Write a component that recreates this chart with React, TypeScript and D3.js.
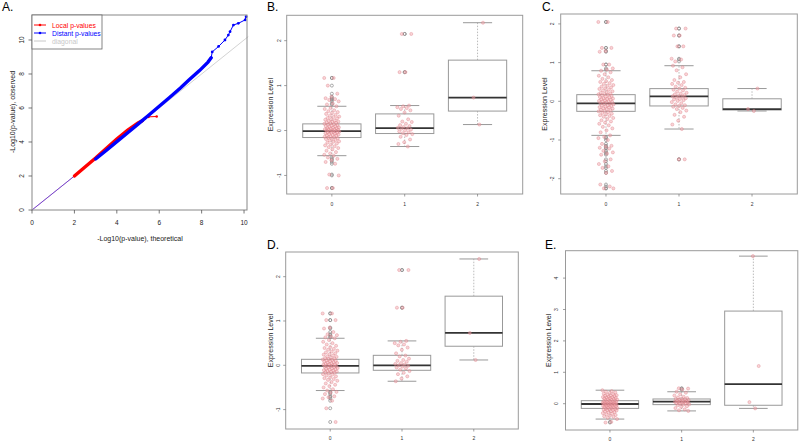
import React from "react";
import * as d3 from "d3";

// ---------- Panel A data (QQ plot) ----------
const qqTicks = [0, 2, 4, 6, 8, 10];
const localDense: [number, number][] = [
  [2.0, 2.0], [2.5, 2.53], [3.0, 3.06], [3.5, 3.62], [4.0, 4.18], [4.5, 4.68], [5.0, 5.12], [5.2, 5.25],
];
const localSparse: [number, number][] = [[5.2, 5.25], [5.5, 5.48], [5.88, 5.5]];
const distantDense: [number, number][] = [
  [3.0, 3.0], [3.5, 3.5], [4.0, 4.02], [4.5, 4.53], [5.0, 5.05], [5.5, 5.57], [6.0, 6.1], [6.5, 6.63],
  [7.0, 7.18], [7.4, 7.65], [7.9, 8.2], [8.3, 8.7], [8.45, 8.95],
];
const distantSparse: [number, number][] = [
  [8.45, 8.95], [8.5, 9.3], [8.8, 9.62], [9.1, 10.0], [9.26, 10.29], [9.34, 10.49], [9.5, 10.88],
  [9.73, 10.98], [10.05, 11.18], [10.1, 11.37],
];
const legendLabels = ["Local p-values", "Distant p-values", "diagonal"];

// ---------- Box plot data ----------
const groups = ["0", "1", "2"];

// Panel B
const bQ1 = [-0.156, -0.067, 0.433];
const bMed = [-0.015, 0.052, 0.733];
const bQ3 = [0.148, 0.37, 1.567];
const bLo = [-0.56, -0.356, 0.133];
const bHi = [0.54, 0.556, 2.4];
const bPts0 = [1.17, 1.17, 1.0, 0.82, 0.75, 0.72, 0.7, 0.68, 0.65, 0.6, 0.58,
  0.54, 0.5, 0.48, 0.45, 0.43, 0.41, 0.39, 0.37, 0.35, 0.33, 0.31, 0.3, 0.28, 0.27, 0.25, 0.24, 0.22, 0.21, 0.2,
  0.19, 0.18, 0.17, 0.16, 0.15, 0.14, 0.13, 0.12, 0.11, 0.1, 0.09, 0.08, 0.07, 0.06, 0.05, 0.05, 0.04, 0.03,
  0.02, 0.02, 0.01, 0.0, 0.0, -0.01, -0.02, -0.02, -0.03, -0.04, -0.05, -0.05, -0.06, -0.07, -0.08, -0.09,
  -0.1, -0.11, -0.12, -0.13, -0.14, -0.15, -0.16, -0.17, -0.18, -0.19, -0.21, -0.22, -0.24, -0.25, -0.27,
  -0.29, -0.31, -0.33, -0.35, -0.37, -0.39, -0.42, -0.45, -0.48, -0.51, -0.54, -0.56,
  -0.6, -0.63, -0.66, -0.7, -0.74, -0.98, -1.0, -1.28, -1.28];
const bPts1 = [2.15, 2.15, 1.3, 1.3, 0.556, 0.54, 0.52, 0.5, 0.48, 0.45, 0.4, 0.33, 0.25, 0.2, 0.19, 0.15,
  0.12, 0.1, 0.08, 0.06, 0.05, 0.04, 0.02, 0.0, -0.02, -0.04, -0.06, -0.08, -0.1, -0.14, -0.2, -0.26, -0.3, -0.356];
const bPts2 = [0.133, 0.733, 2.4];
const bTicks = [-1, 0, 1, 2];

// Panel C
const cQ1 = [-0.259, -0.12, -0.225];
const cMed = [-0.052, 0.129, -0.2];
const cQ3 = [0.172, 0.328, 0.065];
const cLo = [-0.88, -0.716, -0.25];
const cHi = [0.79, 0.92, 0.33];
const cPts0 = [2.05, 2.05, 1.38, 1.38, 1.3, 1.28, 0.95, 0.95, 0.85, 0.82,
  0.79, 0.75, 0.7, 0.66, 0.62, 0.58, 0.55, 0.52, 0.5, 0.47, 0.45, 0.42, 0.4, 0.38, 0.36, 0.34, 0.32, 0.3,
  0.28, 0.26, 0.24, 0.22, 0.2, 0.19, 0.18, 0.17, 0.15, 0.14, 0.12, 0.11, 0.1, 0.08, 0.07, 0.06, 0.05, 0.04,
  0.02, 0.01, 0.0, -0.01, -0.02, -0.03, -0.05, -0.06, -0.07, -0.08, -0.1, -0.11, -0.12, -0.14, -0.15, -0.16,
  -0.18, -0.19, -0.2, -0.22, -0.23, -0.25, -0.26, -0.28, -0.3, -0.32, -0.34, -0.36, -0.38, -0.4, -0.43,
  -0.46, -0.49, -0.52, -0.55, -0.58, -0.62, -0.66, -0.7, -0.75, -0.8, -0.88,
  -0.92, -0.95, -1.0, -1.1, -1.15, -1.17, -1.2, -1.22, -1.28, -1.32, -1.35, -1.38, -1.5, -1.55, -1.62,
  -1.68, -1.72, -1.8, -1.85, -2.15, -2.2, -2.25, -2.25];
const cPts1 = [1.88, 1.88, 1.7, 1.7, 1.42, 1.42, 1.1, 1.08, 1.03, -1.5, -1.5,
  0.92, 0.88, 0.8, 0.7, 0.62, 0.55, 0.5, 0.48, 0.45, 0.42, 0.38, 0.35, 0.33, 0.3, 0.28, 0.25, 0.22, 0.2,
  0.18, 0.16, 0.14, 0.13, 0.12, 0.1, 0.08, 0.06, 0.05, 0.03, 0.01, -0.02, -0.05, -0.08, -0.1, -0.12, -0.14,
  -0.17, -0.2, -0.24, -0.28, -0.35, -0.4, -0.5, -0.6, -0.716];
const cPts2 = [-0.25, -0.2, 0.33];
const cTicks = [-2, -1, 0, 1, 2];

// Panel D
const dQ1 = [-0.173, -0.113, 0.43];
const dMed = [-0.015, 0.0, 0.73];
const dQ3 = [0.135, 0.225, 1.56];
const dLo = [-0.57, -0.36, 0.12];
const dHi = [0.61, 0.55, 2.4];
const dPts0 = [1.17, 1.17, 1.02, 1.02, 0.85, 0.83, 0.75, 0.7, 0.68, 0.65, 0.63,
  0.61, 0.57, 0.53, 0.5, 0.47, 0.44, 0.41, 0.39, 0.37, 0.35, 0.33, 0.31, 0.29, 0.27, 0.25, 0.24, 0.22, 0.2,
  0.19, 0.17, 0.16, 0.15, 0.14, 0.13, 0.12, 0.11, 0.1, 0.09, 0.08, 0.07, 0.06, 0.05, 0.04, 0.03, 0.02, 0.02,
  0.01, 0.0, -0.01, -0.02, -0.02, -0.03, -0.04, -0.05, -0.06, -0.07, -0.08, -0.09, -0.1, -0.11, -0.12, -0.13,
  -0.14, -0.15, -0.16, -0.17, -0.18, -0.2, -0.21, -0.23, -0.25, -0.27, -0.29, -0.31, -0.33, -0.35, -0.38,
  -0.41, -0.44, -0.47, -0.5, -0.54, -0.57,
  -0.6, -0.62, -0.65, -0.7, -0.72, -0.75, -0.8, -0.97, -1.28];
const dPts1 = [2.15, 2.15, 1.3, 1.3, 0.55, 0.53, 0.5, 0.47, 0.45, 0.4, 0.35, 0.27, 0.22, 0.2, 0.15, 0.12,
  0.1, 0.08, 0.05, 0.03, 0.02, 0.0, -0.01, -0.03, -0.05, -0.07, -0.1, -0.13, -0.17, -0.2, -0.25, -0.3, -0.36];
const dPts2 = [0.12, 0.73, 2.4];
const dTicks = [-1, 0, 1, 2];

// Panel E
const eQ1 = [-0.15, -0.03, -0.05];
const eMed = [-0.01, 0.064, 0.625];
const eQ3 = [0.096, 0.15, 2.95];
const eLo = [-0.49, -0.23, -0.15];
const eHi = [0.43, 0.38, 4.7];
const ePts0 = [0.43, 0.4, 0.38, 0.36, 0.34, 0.32, 0.3, 0.28, 0.27, 0.26, 0.25, 0.24, 0.22, 0.21, 0.2, 0.19,
  0.18, 0.17, 0.16, 0.15, 0.14, 0.13, 0.12, 0.11, 0.1, 0.09, 0.08, 0.07, 0.06, 0.05, 0.05, 0.04, 0.03, 0.02,
  0.02, 0.01, 0.0, 0.0, -0.01, -0.01, -0.02, -0.03, -0.03, -0.04, -0.05, -0.05, -0.06, -0.07, -0.08, -0.08,
  -0.09, -0.1, -0.11, -0.12, -0.13, -0.14, -0.15, -0.16, -0.17, -0.18, -0.19, -0.2, -0.21, -0.22, -0.24,
  -0.25, -0.27, -0.28, -0.3, -0.32, -0.34, -0.36, -0.38, -0.4, -0.42, -0.45, -0.49, -0.58, -0.6];
const ePts1 = [0.49, 0.48, 0.45, 0.38, 0.35, 0.3, 0.26, 0.22, 0.2, 0.18, 0.16, 0.15, 0.14, 0.12, 0.11, 0.1,
  0.09, 0.08, 0.07, 0.06, 0.06, 0.05, 0.04, 0.03, 0.02, 0.01, 0.0, -0.02, -0.03, -0.05, -0.08, -0.1, -0.14,
  -0.18, -0.21, -0.23];
const ePts2 = [-0.15, 0.05, 1.2, 4.7];
const eTicks = [0, 1, 2, 3, 4];

const FONT = "'Liberation Sans', Arial, Helvetica, sans-serif";
const FRAME = "#9a9a9a";

function QQPanel() {
  const x = d3.scaleLinear().domain([0, 10.14]).range([32, 247]);
  const y = d3.scaleLinear().domain([0, 11.47]).range([210, 15]);
  const line = d3.line<[number, number]>().x((d) => x(d[0])).y((d) => y(d[1]));
  return (
    <g fontFamily={FONT}>
      <text x={2} y={11} fontSize={12}>A.</text>
      <line x1={x(0)} y1={y(0)} x2={x(10.2)} y2={y(10.2)} stroke="#d3d3d3" strokeWidth={1} />
      <line x1={x(0)} y1={y(0)} x2={x(2)} y2={y(2)} stroke="#7a3fd0" strokeWidth={1} />
      <path d={line(localDense) || ""} fill="none" stroke="#ff0000" strokeWidth={3.4} strokeLinecap="round" />
      <path d={line(localSparse) || ""} fill="none" stroke="#ff0000" strokeWidth={1} />
      {localSparse.map((p, i) => (
        <circle key={"ls" + i} cx={x(p[0])} cy={y(p[1])} r={1.3} fill="#ff0000" />
      ))}
      <path d={line(distantDense) || ""} fill="none" stroke="#0000ff" strokeWidth={3.4} strokeLinecap="round" />
      <path d={line(distantSparse) || ""} fill="none" stroke="#0000ff" strokeWidth={1} />
      {distantSparse.map((p, i) => (
        <circle key={"ds" + i} cx={x(p[0])} cy={y(p[1])} r={1.4} fill="#0000ff" />
      ))}
      <rect x={32} y={15} width={215} height={195} fill="none" stroke="#888" strokeWidth={1} />
      {qqTicks.map((t) => (
        <g key={"xt" + t}>
          <line x1={x(t)} x2={x(t)} y1={210} y2={213.5} stroke="#555" strokeWidth={0.8} />
          <text x={x(t)} y={222} fontSize={6.5} textAnchor="middle" dominantBaseline="central" fill="#222">{t}</text>
        </g>
      ))}
      {qqTicks.map((t) => (
        <g key={"yt" + t}>
          <line x1={28.5} x2={32} y1={y(t)} y2={y(t)} stroke="#555" strokeWidth={0.8} />
          <text transform={`translate(21,${y(t)}) rotate(-90)`} fontSize={6.5} textAnchor="middle" dominantBaseline="central" fill="#222">{t}</text>
        </g>
      ))}
      <text x={140} y={238} fontSize={7} textAnchor="middle" dominantBaseline="central" fill="#222">-Log10(p-value), theoretical</text>
      <text transform={`translate(12,112) rotate(-90)`} fontSize={7} textAnchor="middle" dominantBaseline="central" fill="#222">-Log10(p-value), observed</text>
      <rect x={32} y={15} width={70} height={34} fill="white" stroke="#666" strokeWidth={0.8} />
      {legendLabels.map((lab, i) => {
        const col = ["#ff0000", "#0000ff", "#c8c8c8"][i];
        const yy = 25 + i * 8;
        return (
          <g key={lab}>
            <line x1={34} x2={46} y1={yy} y2={yy} stroke={col} strokeWidth={1} />
            {i < 2 && <circle cx={40} cy={yy} r={1.3} fill={col} />}
            <text x={52} y={yy} fontSize={6.8} dominantBaseline="central" fill={col}>{lab}</text>
          </g>
        );
      })}
    </g>
  );
}

type BoxProps = {
  label: string;
  labelX: number;
  labelY: number;
  left: number;
  right: number;
  top: number;
  bottom: number;
  yDomain: [number, number];
  ticks: number[];
  q1: number[];
  med: number[];
  q3: number[];
  lo: number[];
  hi: number[];
  pts: number[][];
  tickLabelX: number;
  titleX: number;
  xLabelY: number;
};

function BoxPanel(p: BoxProps) {
  const x = d3.scaleLinear().domain([0.38, 3.62]).range([p.left, p.right]);
  const y = d3.scaleLinear().domain(p.yDomain).range([p.bottom, p.top]);
  const unit = x(1) - x(0);
  const bw = unit * 0.8;
  const midY = (p.top + p.bottom) / 2;
  return (
    <g fontFamily={FONT}>
      <text x={p.labelX} y={p.labelY} fontSize={12}>{p.label}</text>
      {groups.map((g, i) => {
        const cx = x(i + 1);
        return (
          <g key={"box" + g}>
            <line x1={cx} x2={cx} y1={y(p.q3[i])} y2={y(p.hi[i])} stroke="#aaa" strokeWidth={0.8} strokeDasharray="1.5,1.5" />
            <line x1={cx} x2={cx} y1={y(p.q1[i])} y2={y(p.lo[i])} stroke="#aaa" strokeWidth={0.8} strokeDasharray="1.5,1.5" />
            <line x1={cx - bw / 4} x2={cx + bw / 4} y1={y(p.hi[i])} y2={y(p.hi[i])} stroke="#999" strokeWidth={1} />
            <line x1={cx - bw / 4} x2={cx + bw / 4} y1={y(p.lo[i])} y2={y(p.lo[i])} stroke="#999" strokeWidth={1} />
            <rect x={cx - bw / 2} y={y(p.q3[i])} width={bw} height={y(p.q1[i]) - y(p.q3[i])} fill="white" stroke="#999" strokeWidth={1} />
            <line x1={cx - bw / 2} x2={cx + bw / 2} y1={y(p.med[i])} y2={y(p.med[i])} stroke="#333" strokeWidth={1.8} />
            {p.pts[i]
              .filter((v) => v > p.hi[i] + 1e-9 || v < p.lo[i] - 1e-9)
              .map((v, j) => (
                <circle key={"o" + j} cx={cx} cy={y(v)} r={1.5} fill="none" stroke="#888" strokeWidth={0.7} />
              ))}
          </g>
        );
      })}
      {groups.map((g, i) => {
        const cx = x(i + 1);
        return (
          <g key={"pts" + g}>
            {p.pts[i].map((v, j) => {
              const jit = (((j * 0.6180339887 + 0.31 * i) % 1) - 0.5) * 2 * 0.105 * unit;
              return (
                <circle key={j} cx={cx + jit} cy={y(v)} r={1.55} fill="rgba(244,170,175,0.5)" stroke="rgba(215,110,120,0.55)" strokeWidth={0.6} />
              );
            })}
          </g>
        );
      })}
      <rect x={p.left} y={p.top} width={p.right - p.left} height={p.bottom - p.top} fill="none" stroke={FRAME} strokeWidth={1} />
      {p.ticks.map((t) => (
        <g key={"t" + t}>
          <line x1={p.left - 2.5} x2={p.left} y1={y(t)} y2={y(t)} stroke="#777" strokeWidth={0.7} />
          <text transform={`translate(${p.tickLabelX},${y(t)}) rotate(-90)`} fontSize={5} textAnchor="middle" dominantBaseline="central" fill="#333">{t}</text>
        </g>
      ))}
      {groups.map((g, i) => (
        <g key={"xl" + g}>
          <line x1={x(i + 1)} x2={x(i + 1)} y1={p.bottom} y2={p.bottom + 2.5} stroke="#777" strokeWidth={0.7} />
          <text x={x(i + 1)} y={p.xLabelY} fontSize={5} textAnchor="middle" dominantBaseline="central" fill="#333">{g}</text>
        </g>
      ))}
      <text transform={`translate(${p.titleX},${midY}) rotate(-90)`} fontSize={7} textAnchor="middle" dominantBaseline="central" fill="#222">Expression Level</text>
    </g>
  );
}

export default function App() {
  return (
    <svg width={800} height={443} style={{ position: "absolute", left: 0, top: 0, background: "white" }}>
      <rect x={0} y={0} width={800} height={443} fill="white" />
      <QQPanel />
      <BoxPanel label="B." labelX={267} labelY={11} left={286.7} right={522.7} top={15.3} bottom={194}
        yDomain={[-1.413, 2.565]} ticks={bTicks} q1={bQ1} med={bMed} q3={bQ3} lo={bLo} hi={bHi}
        pts={[bPts0, bPts1, bPts2]} tickLabelX={279} titleX={270} xLabelY={204} />
      <BoxPanel label="C." labelX={542} labelY={11} left={560.7} right={797.3} top={14} bottom={194}
        yDomain={[-2.395, 2.256]} ticks={cTicks} q1={cQ1} med={cMed} q3={cQ3} lo={cLo} hi={cHi}
        pts={[cPts0, cPts1, cPts2]} tickLabelX={552} titleX={544} xLabelY={204} />
      <BoxPanel label="D." labelX={267} labelY={249} left={285.7} right={518.3} top={252} bottom={429}
        yDomain={[-1.438, 2.557]} ticks={dTicks} q1={dQ1} med={dMed} q3={dQ3} lo={dLo} hi={dHi}
        pts={[dPts0, dPts1, dPts2]} tickLabelX={278} titleX={270} xLabelY={438} />
      <BoxPanel label="E." labelX={545} labelY={249} left={565.5} right={797.8} top={250.7} bottom={430}
        yDomain={[-0.838, 4.873]} ticks={eTicks} q1={eQ1} med={eMed} q3={eQ3} lo={eLo} hi={eHi}
        pts={[ePts0, ePts1, ePts2]} tickLabelX={556} titleX={548} xLabelY={439} />
    </svg>
  );
}
